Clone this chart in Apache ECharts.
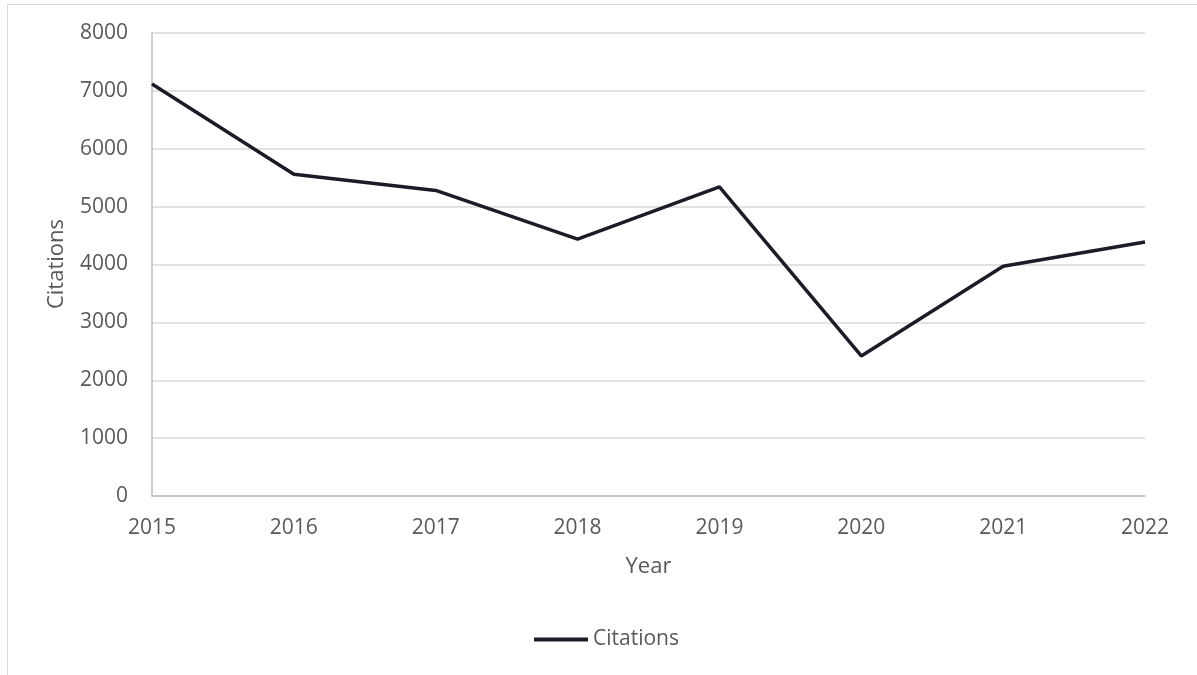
<!DOCTYPE html>
<html>
<head>
<meta charset="utf-8">
<script src="https://cdn.jsdelivr.net/npm/echarts@6/dist/echarts.min.js"></script>
<style>
  html, body { margin: 0; padding: 0; background: #fff; }
  #chart { width: 1197px; height: 675px; }
</style>
</head>
<body>
<div id="chart"></div>
<script>
// Yearly citation counts
const years = ['2015', '2016', '2017', '2018', '2019', '2020', '2021', '2022'];
const citations = [7120, 5560, 5280, 4440, 5340, 2420, 3970, 4390];

const FONT = '"Open Sans", "Noto Sans", sans-serif';
const TEXT = '#595959';

const chart = echarts.init(document.getElementById('chart'), null, { renderer: 'canvas' });
chart.setOption({
  animation: false,
  backgroundColor: '#fff',
  graphic: [{
    type: 'rect',
    shape: { x: 7.5, y: 4.5, width: 1200, height: 680 },
    style: { fill: 'none', stroke: '#d9d9d9', lineWidth: 1 },
    silent: true
  }, {
    // vertical axis title
    type: 'text',
    x: 57,
    y: 264,
    rotation: Math.PI / 2,
    style: {
      text: 'Citations',
      fill: TEXT,
      font: '22px ' + FONT,
      align: 'center',
      verticalAlign: 'middle'
    },
    silent: true
  }],
  grid: { left: 152, right: 52, top: 33, bottom: 179, containLabel: false },
  legend: {
    data: ['Citations'],
    top: 624,
    left: 529,
    itemWidth: 54,
    itemHeight: 4,
    itemGap: 0,
    icon: 'rect',
    textStyle: { color: TEXT, fontFamily: FONT, fontSize: 21 }
  },
  xAxis: {
    type: 'category',
    data: years,
    boundaryGap: false,
    name: 'Year',
    nameLocation: 'middle',
    nameGap: 60,
    nameTextStyle: { color: TEXT, fontFamily: FONT, fontSize: 22 },
    axisLine: { lineStyle: { color: '#bfbfbf', width: 1.5 } },
    axisTick: { show: false },
    axisLabel: { color: TEXT, fontFamily: FONT, fontSize: 21, margin: 22 },
    splitLine: { show: false }
  },
  yAxis: {
    type: 'value',
    min: 0,
    max: 8000,
    interval: 1000,
    axisLine: { show: true, lineStyle: { color: '#bfbfbf', width: 1.5 } },
    axisTick: { show: false },
    axisLabel: {
      color: TEXT, fontFamily: FONT, fontSize: 21, margin: 24,
      formatter: v => String(v)
    },
    splitLine: { lineStyle: { color: '#d9d9d9', width: 1.5 } }
  },
  series: [{
    name: 'Citations',
    type: 'line',
    data: citations,
    symbol: 'none',
    lineStyle: { color: '#1c1c28', width: 3.5 },
    itemStyle: { color: '#1c1c28' }
  }]
});
</script>
</body>
</html>
